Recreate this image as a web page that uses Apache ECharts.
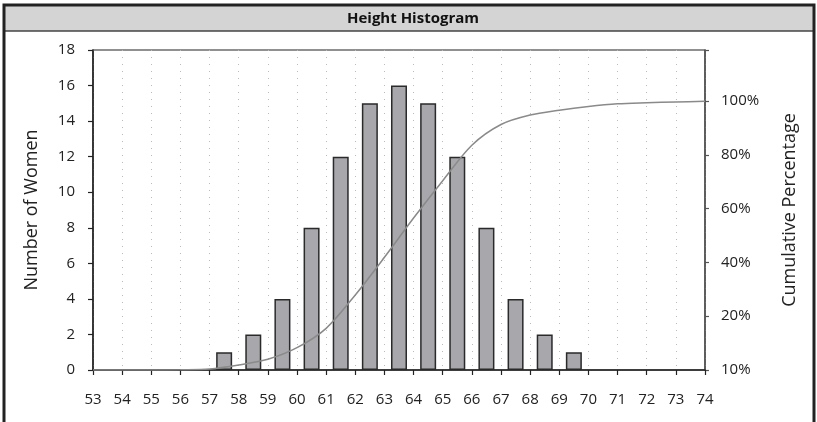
<!DOCTYPE html>
<html>
<head>
<meta charset="utf-8">
<script src="https://cdn.jsdelivr.net/npm/echarts@6/dist/echarts.min.js"></script>
<style>
html,body{margin:0;padding:0;background:#fff;}
#chart{width:817px;height:422px;}
</style>
</head>
<body>
<div id="chart"></div>
<script>
// Histogram bins (bin start height in inches) and counts
var binStarts = [57, 58, 59, 60, 61, 62, 63, 64, 65, 66, 67, 68, 69];
var counts    = [1, 2, 4, 8, 12, 15, 16, 15, 12, 8, 4, 2, 1];
// Cumulative percentage curve
var curveX   = [53, 54, 55, 56, 57, 58, 59, 60, 61, 62, 63, 64, 65, 66, 67, 68, 69, 70, 71, 72, 73, 74];
var curvePct = [0, 0, 0, 0.001, 0.004, 0.019, 0.04, 0.083, 0.155, 0.279, 0.419, 0.565, 0.704, 0.836, 0.913, 0.948, 0.966, 0.98, 0.99, 0.994, 0.997, 0.999];
var rightTickLabels = {0: '10%', 0.2: '20%', 0.4: '40%', 0.6: '60%', 0.8: '80%', 1: '100%'};
var titleText = 'Height Histogram';
var leftName = 'Number of Women';
var rightName = 'Cumulative Percentage';

var FONT = '"Open Sans", "Noto Sans", sans-serif';
var chart = echarts.init(document.getElementById('chart'), null, {renderer: 'canvas'});

var barData = binStarts.map(function (b, i) { return [b + 0.5, counts[i]]; });
var lineData = curveX.map(function (x, i) { return [x, curvePct[i]]; });

chart.setOption({
  animation: false,
  backgroundColor: '#fff',
  graphic: [
    {type: 'rect', shape: {x: 5, y: 6, width: 808, height: 25}, style: {fill: '#d4d4d4'}, z: 0},
    {type: 'line', shape: {x1: 5, y1: 31, x2: 813, y2: 31}, style: {stroke: '#444', lineWidth: 1.5}, z: 1},
    {type: 'rect', shape: {x: 4, y: 5, width: 810, height: 425}, style: {fill: null, stroke: '#222', lineWidth: 3}, z: 2},
    {type: 'text', x: 413, y: 19, style: {text: titleText, font: 'bold 15px ' + FONT, fill: '#111', align: 'center', verticalAlign: 'middle'}, z: 3}
  ],
  grid: {left: 93, right: 112, top: 50, bottom: 52, show: true, borderColor: '#222', borderWidth: 1.2, backgroundColor: 'transparent'},
  xAxis: {
    type: 'value', min: 53, max: 74, interval: 1,
    axisLine: {show: true, lineStyle: {color: '#222', width: 1.5}},
    axisTick: {show: true, length: 5, lineStyle: {color: '#222', width: 1.2}},
    axisLabel: {margin: 22, fontSize: 15, color: '#222', fontFamily: FONT},
    splitLine: {show: true, lineStyle: {color: '#bbb', type: [1, 6], width: 1}}
  },
  yAxis: [
    {
      type: 'value', min: 0, max: 18, interval: 2, position: 'left',
      name: leftName, nameLocation: 'middle', nameGap: 52, nameRotate: 90,
      nameTextStyle: {fontSize: 18, color: '#222', fontFamily: FONT},
      axisLine: {show: true, lineStyle: {color: '#222', width: 1.5}},
      axisTick: {show: true, length: 5, lineStyle: {color: '#222', width: 1.2}},
      axisLabel: {margin: 18, fontSize: 15, color: '#222', fontFamily: FONT},
      splitLine: {show: false}
    },
    {
      type: 'value', min: 0, max: 1.19, interval: 0.2, position: 'right',
      name: rightName, nameLocation: 'middle', nameGap: 76, nameRotate: 90,
      nameTextStyle: {fontSize: 18, color: '#222', fontFamily: FONT},
      axisLine: {show: true, lineStyle: {color: '#555', width: 1.5}},
      axisTick: {show: true, length: 4, lineStyle: {color: '#555', width: 1.2}},
      axisLabel: {
        margin: 16, fontSize: 15, color: '#222', fontFamily: FONT,
        formatter: function (v) {
          var k = Math.round(v * 10) / 10;
          if (v > 1.01) return '';
          return rightTickLabels[k] !== undefined ? rightTickLabels[k] : '';
        }
      },
      splitLine: {show: false}
    }
  ],
  series: [
    {
      type: 'bar', xAxisIndex: 0, yAxisIndex: 0, data: barData, barWidth: 16,
      itemStyle: {color: '#a7a7ac', borderColor: '#2a2a2a', borderWidth: 1.5}
    },
    {
      type: 'line', xAxisIndex: 0, yAxisIndex: 1, data: lineData, smooth: 0.3,
      showSymbol: false, symbol: 'none',
      lineStyle: {color: '#8a8a8a', width: 1.5}, z: 3
    }
  ]
});
</script>
</body>
</html>
